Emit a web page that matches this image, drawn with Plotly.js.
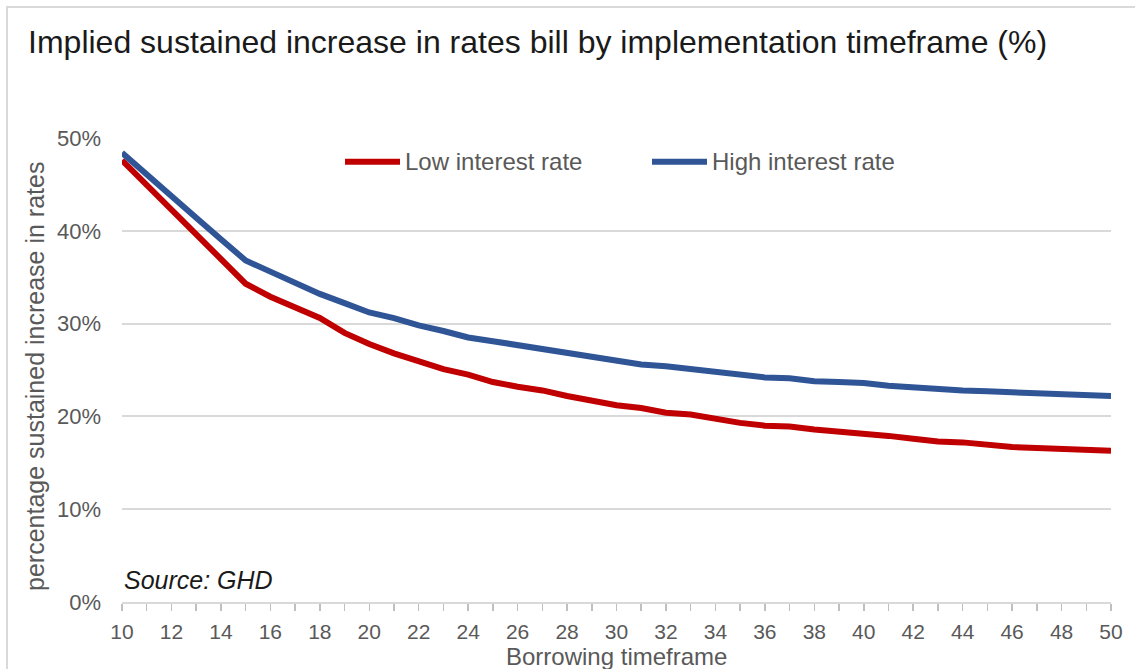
<!DOCTYPE html>
<html>
<head>
<meta charset="utf-8">
<script src="https://cdn.plot.ly/plotly-3.0.1.min.js"></script>
<style>
  html, body { margin: 0; padding: 0; background: #ffffff; }
  #wrap { position: relative; width: 1135px; height: 669px; overflow: hidden; }
  #chart { position: absolute; left: 0; top: 0; width: 1135px; height: 669px; }
  #frame { position: absolute; left: 6px; top: 6px; width: 1140px; height: 700px;
           border: 2px solid #d9d9d9; pointer-events: none; }
</style>
</head>
<body>
<div id="wrap">
  <div id="chart"></div>
  <div id="frame"></div>
</div>
<script>
// Borrowing timeframe (years)
const years = [10, 11, 12, 13, 14, 15, 16, 17, 18, 19, 20,
               21, 22, 23, 24, 25, 26, 27, 28, 29, 30,
               31, 32, 33, 34, 35, 36, 37, 38, 39, 40,
               41, 42, 43, 44, 45, 46, 47, 48, 49, 50];

// Implied sustained increase in rates bill (%)
const lowRate = [47.6, 44.9, 42.2, 39.6, 36.9, 34.3, 32.9, 31.7, 30.6, 29.0, 27.8,
                 26.8, 25.9, 25.1, 24.5, 23.7, 23.2, 22.8, 22.2, 21.7, 21.2,
                 20.9, 20.4, 20.2, 19.7, 19.3, 19.0, 18.9, 18.6, 18.4, 18.1,
                 17.9, 17.6, 17.3, 17.2, 16.9, 16.7, 16.6, 16.5, 16.4, 16.3];

const highRate = [48.4, 46.0, 43.7, 41.4, 39.1, 36.8, 35.6, 34.4, 33.2, 32.2, 31.2,
                  30.6, 29.8, 29.2, 28.5, 28.1, 27.7, 27.3, 26.9, 26.4, 26.0,
                  25.6, 25.4, 25.1, 24.8, 24.5, 24.2, 24.1, 23.8, 23.7, 23.6,
                  23.3, 23.1, 23.0, 22.8, 22.7, 22.6, 22.4, 22.3, 22.3, 22.2];

const seriesNames = ['Low interest rate', 'High interest rate'];
const xTickVals = [10, 12, 14, 16, 18, 20, 22, 24, 26, 28, 30,
                   32, 34, 36, 38, 40, 42, 44, 46, 48, 50];
const yTickVals = [0, 10, 20, 30, 40, 50];
const yTickText = ['0%', '10%', '20%', '30%', '40%', '50%'];

const RED = '#c00000';
const BLUE = '#2f5597';
const FONT = 'Liberation Sans, Arial, sans-serif';
const GREY_TEXT = '#595959';

const traces = [
  { x: years, y: lowRate, name: seriesNames[0], type: 'scatter', mode: 'lines',
    line: { color: RED, width: 6 }, showlegend: false, hoverinfo: 'x+y+name' },
  { x: years, y: highRate, name: seriesNames[1], type: 'scatter', mode: 'lines',
    line: { color: BLUE, width: 6 }, showlegend: false, hoverinfo: 'x+y+name' }
];

// Custom legend: a line sample plus a label for each series
const legendY = 0.949;
const legendItems = [
  { color: RED, x0: 0.2255, x1: 0.2811, text: seriesNames[0] },
  { color: BLUE, x0: 0.5359, x1: 0.5915, text: seriesNames[1] }
];
const legendShapes = legendItems.map(it => ({
  type: 'line', xref: 'paper', yref: 'paper',
  x0: it.x0, x1: it.x1, y0: legendY, y1: legendY,
  line: { color: it.color, width: 6 }
}));
const legendLabels = legendItems.map(it => ({
  xref: 'paper', yref: 'paper', x: it.x1 + 0.003, y: legendY,
  xanchor: 'left', yanchor: 'middle', showarrow: false,
  text: it.text, font: { family: FONT, size: 24, color: GREY_TEXT }
}));

const layout = {
  width: 1135, height: 669,
  margin: { l: 122, r: 24, t: 138, b: 67 },
  paper_bgcolor: 'rgba(0,0,0,0)',
  plot_bgcolor: '#ffffff',
  showlegend: false,
  title: {
    text: 'Implied sustained increase in rates bill by implementation timeframe (%)',
    font: { family: FONT, size: 32, color: '#1a1a1a' },
    xref: 'container', x: 0.0247, xanchor: 'left',
    yref: 'container', y: 0.937, yanchor: 'middle'
  },
  xaxis: {
    range: [10, 50],
    tickvals: xTickVals,
    ticks: 'outside', ticklen: 7, tickwidth: 1.5, tickcolor: '#bfbfbf',
    minor: { dtick: 1, ticks: 'outside', ticklen: 7, tickwidth: 1.5, tickcolor: '#bfbfbf' },
    showgrid: false, zeroline: false,
    showline: true, linecolor: '#d9d9d9', linewidth: 2,
    tickfont: { family: FONT, size: 21, color: GREY_TEXT },
    ticklabelstandoff: 3,
    fixedrange: true
  },
  yaxis: {
    range: [0, 50],
    tickvals: yTickVals,
    ticktext: yTickText,
    ticks: '',
    showgrid: true, gridcolor: '#d9d9d9', gridwidth: 2,
    zeroline: false, showline: false,
    tickfont: { family: FONT, size: 22, color: GREY_TEXT },
    ticklabelstandoff: 20,
    fixedrange: true
  },
  shapes: legendShapes,
  annotations: legendLabels.concat([
    { xref: 'paper', yref: 'paper', x: 0.5, y: -0.118, xanchor: 'center', yanchor: 'middle',
      showarrow: false, text: 'Borrowing timeframe',
      font: { family: FONT, size: 24, color: GREY_TEXT } },
    { xref: 'paper', yref: 'paper', x: -0.088, y: 0.487, xanchor: 'center', yanchor: 'middle',
      textangle: -90, showarrow: false, text: 'percentage sustained increase in rates',
      font: { family: FONT, size: 25, color: GREY_TEXT } },
    { xref: 'paper', yref: 'paper', x: 0, y: 0.0474, xanchor: 'left', yanchor: 'middle',
      showarrow: false, text: '<i>Source: GHD</i>',
      font: { family: FONT, size: 25, color: '#1a1a1a' } }
  ])
};

Plotly.newPlot('chart', traces, layout, { displayModeBar: false, staticPlot: true });
</script>
</body>
</html>
